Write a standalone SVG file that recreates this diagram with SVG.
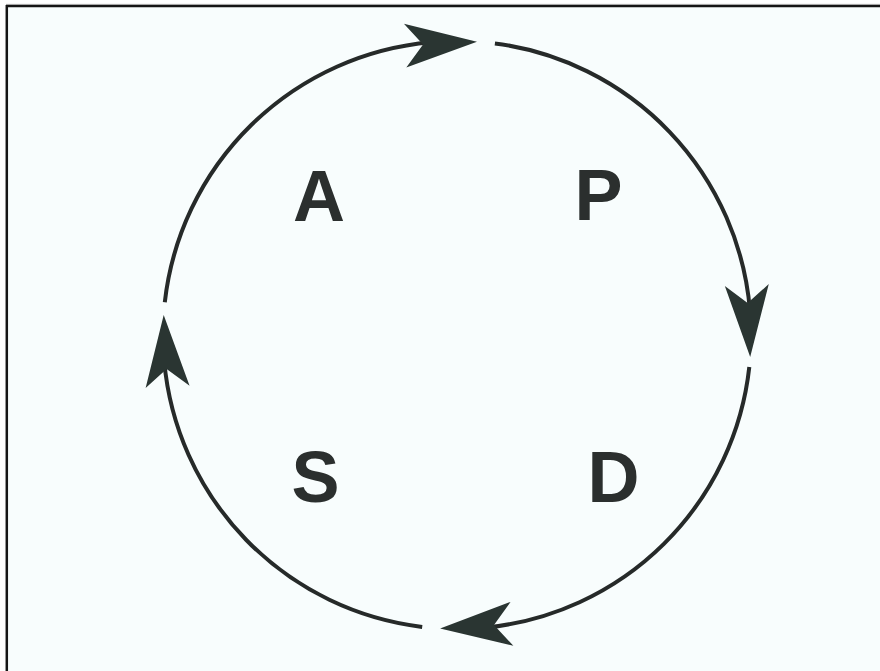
<svg xmlns="http://www.w3.org/2000/svg" xmlns:xlink="http://www.w3.org/1999/xlink" width="880" height="671" viewBox="0 0 880 671">
  <style>
    .arc { fill: none; stroke: #262a29; stroke-width: 4; stroke-linecap: butt; }
    .head { fill: #2a3532; }
    .lbl { font-family: "Liberation Sans", Arial, sans-serif; font-weight: bold; font-size: 72px; fill: #2b2f2e; }
  </style>
  <defs>
    <polygon id="arrowhead" class="head" points="0,0 -72,-22 -54,0 -72,22"/>
  </defs>
  <rect x="0" y="0" width="880" height="671" fill="#ffffff"/>
  <rect x="7" y="6" width="873" height="665" fill="#f8fdfd"/>
  <line x1="6" y1="4.3" x2="880" y2="4.3" stroke="#d0d0d0" stroke-width="1"/>
  <line x1="6" y1="6" x2="880" y2="6" stroke="#151515" stroke-width="2.5"/>
  <line x1="6.8" y1="5" x2="6.8" y2="671" stroke="#151515" stroke-width="2.5"/>

  <g id="connectors">
    <path class="arc" d="M 164.8 302.2 A 294 294 0 0 1 430.9 42.2"/>
    <path class="arc" d="M 494.9 43.4 A 294 294 0 0 1 750.0 310.9"/>
    <path class="arc" d="M 749.3 367.0 A 294 294 0 0 1 486.2 627.5"/>
    <path class="arc" d="M 422.2 626.9 A 294 294 0 0 1 164.2 361.1"/>
    <use xlink:href="#arrowhead" transform="translate(477.0 41.7) rotate(-3.1)"/>
    <use xlink:href="#arrowhead" transform="translate(750.2 357.0) rotate(87.3)"/>
    <use xlink:href="#arrowhead" transform="translate(440.1 628.5) rotate(176.3)"/>
    <use xlink:href="#arrowhead" transform="translate(163.7 315.0) rotate(266.9)"/>
  </g>

  <g id="node-A"><text class="lbl" x="293" y="221">A</text></g>
  <g id="node-P"><text class="lbl" x="574.5" y="220">P</text></g>
  <g id="node-D"><text class="lbl" x="587.5" y="502">D</text></g>
  <g id="node-S"><text class="lbl" x="291.6" y="502">S</text></g>
</svg>
